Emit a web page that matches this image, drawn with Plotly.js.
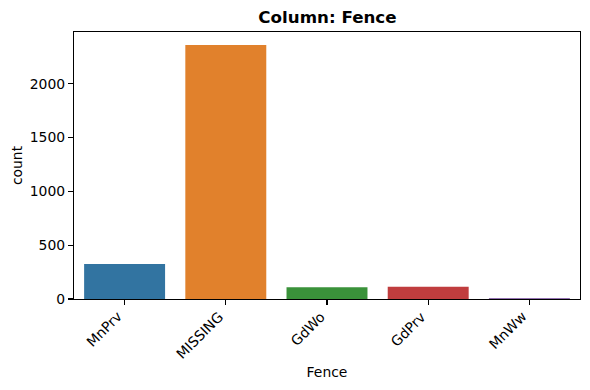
<!DOCTYPE html>
<html><head><meta charset="utf-8">
<script src="https://cdn.plot.ly/plotly-3.0.1.min.js"></script>
<style>html,body{margin:0;padding:0;background:#fff}#chart{width:590px;height:390px}</style>
</head><body><div id="chart"></div>
<script>
const categories = ["MnPrv", "MISSING", "GdWo", "GdPrv", "MnWw"];
const counts = [326, 2360, 110, 113, 10];
const colors = ["#3274a1", "#e1812c", "#3a923a", "#c03d3e", "#9372b2"];
const yTicks = [0, 500, 1000, 1500, 2000];

const font = {family: "DejaVu Sans", size: 13.9, color: "#000"};
const data = [{
  type: "bar", x: categories, y: counts,
  marker: {color: colors, line: {width: 0}},
  hoverinfo: "x+y"
}];
const tickAnnotations = categories.map(c => ({
  x: c, xref: "x", y: 0, yref: "paper",
  text: c, showarrow: false, textangle: -45,
  xanchor: "right", yanchor: "top", yshift: -8, xshift: 2,
  borderpad: 0, font: font
}));
const layout = {
  width: 590, height: 390,
  margin: {l: 74, r: 10, t: 32, b: 91, pad: 0},
  paper_bgcolor: "#fff", plot_bgcolor: "#fff",
  font: font,
  bargap: 0.2,
  showlegend: false,
  annotations: tickAnnotations,
  title: {text: "Column: Fence", font: {family: "DejaVu Sans", size: 16.7, weight: "bold", color: "#000"},
          x: 0.555, xanchor: "center", y: 0.955, yanchor: "middle"},
  xaxis: {
    type: "category", range: [-0.5, 4.5],
    showline: true, linecolor: "#000", linewidth: 1.1, mirror: true,
    ticks: "outside", ticklen: 5, tickcolor: "#000", tickwidth: 1.1,
    showticklabels: false, showgrid: false, zeroline: false,
    title: {text: "Fence", font: font, standoff: 63}
  },
  yaxis: {
    range: [0, 2481], tickvals: yTicks, ticktext: yTicks.map(String),
    showline: true, linecolor: "#000", linewidth: 1.1, mirror: true,
    ticks: "outside", ticklen: 5, tickcolor: "#000", tickwidth: 1.1,
    tickfont: font, showgrid: false, zeroline: false,
    title: {text: "count", font: font, standoff: 3}
  }
};
Plotly.newPlot("chart", data, layout, {displayModeBar: false, staticPlot: true});
</script></body></html>
